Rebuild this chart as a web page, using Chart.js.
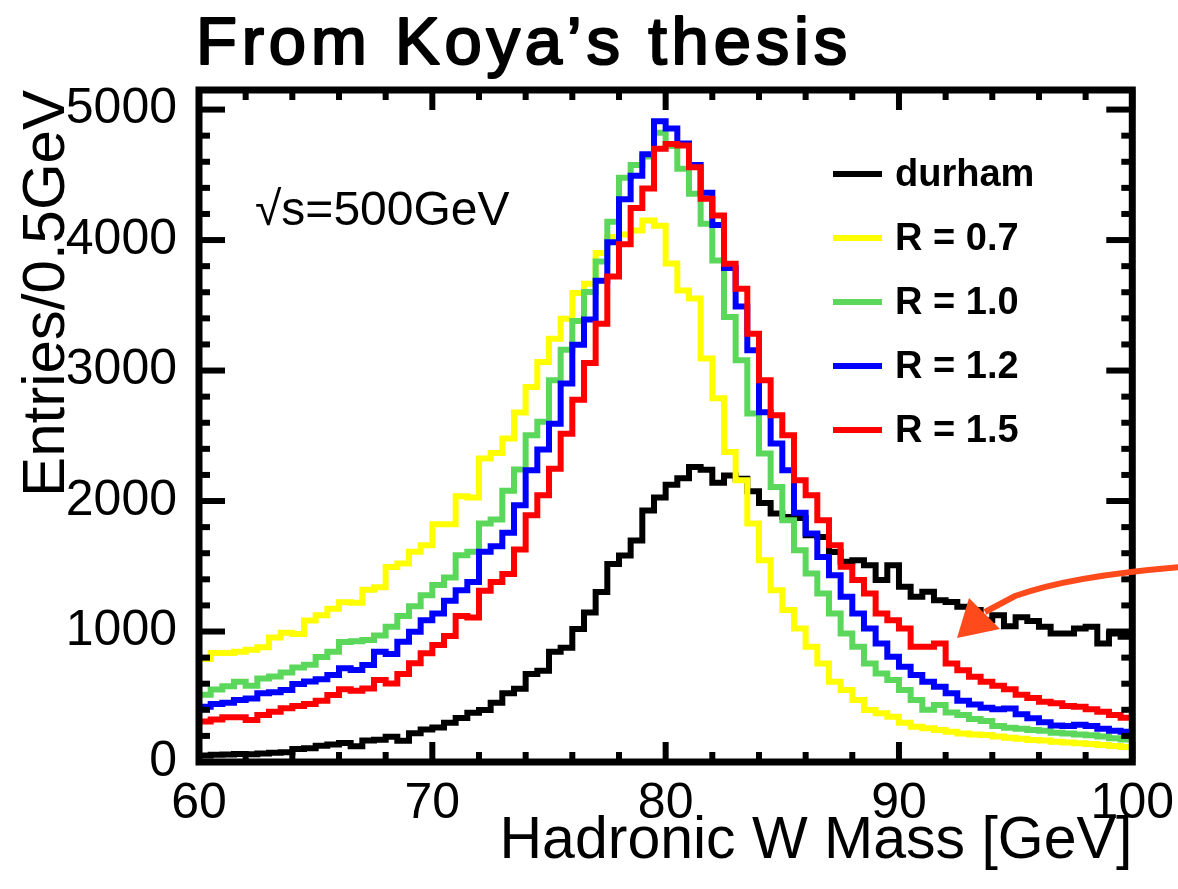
<!DOCTYPE html>
<html lang="en">
<head>
    <meta charset="UTF-8">
    <title>Hadronic W Mass</title>
    <script src="https://cdn.jsdelivr.net/npm/chart.js@4.4.1/dist/chart.umd.min.js"></script>
    <style>
        body { margin: 0; background: #ffffff; }
    </style>
</head>
<body>

    <canvas id="myChart" width="1178" height="889"></canvas>

    <script>
        // 80 bins of 0.5 GeV between 60 and 100 GeV
        const binLow = 60
        const binWidth = 0.5

        const durham = [50, 55, 58, 62, 60, 65, 70, 75, 100, 105, 125, 135, 145, 120, 165, 170, 194, 163, 220, 250,
            265, 301, 337, 378, 398, 454, 526, 561, 674, 699, 845, 875, 1020, 1145, 1303, 1517, 1582, 1697, 1928, 2027,
            2125, 2175, 2260, 2240, 2140, 2195, 2170, 2075, 1985, 1905, 1878, 1870, 1738, 1725, 1610, 1534, 1547, 1508, 1394, 1508,
            1343, 1266, 1304, 1240, 1227, 1189, 1164, 1087, 1125, 1040, 1110, 1080, 1036, 985, 985, 1023, 1036, 908, 985, 960]

        const r07 = [790, 835, 835, 845, 860, 880, 955, 990, 980, 1085, 1125, 1175, 1225, 1220, 1320, 1340, 1495, 1521, 1611, 1662,
            1822, 1822, 2037, 2027, 2325, 2369, 2479, 2678, 2874, 3065, 3244, 3397, 3594, 3666, 3901, 4023, 4043, 4073, 4150, 4110,
            3820, 3614, 3553, 3093, 2787, 2375, 2159, 1827, 1546, 1317, 1164, 1023, 883, 755, 615, 551, 475, 398, 373, 347,
            300, 270, 258, 245, 232, 219, 210, 207, 195, 185, 178, 168, 165, 156, 150, 143, 138, 130, 122, 115]

        const r10 = [515, 555, 580, 615, 585, 640, 655, 685, 725, 745, 805, 845, 920, 925, 935, 970, 1036, 1118, 1194, 1278,
            1356, 1414, 1585, 1611, 1828, 1858, 2078, 2242, 2504, 2607, 2925, 3160, 3380, 3602, 3835, 4141, 4477, 4576, 4641, 4822,
            4720, 4546, 4354, 4125, 3844, 3410, 3078, 2670, 2364, 2108, 1853, 1623, 1445, 1291, 1138, 985, 883, 755, 679, 628,
            551, 475, 400, 436, 380, 360, 330, 315, 275, 262, 255, 245, 240, 225, 218, 210, 205, 195, 182, 172]

        const r12 = [424, 444, 454, 475, 487, 526, 534, 552, 598, 616, 634, 667, 718, 706, 743, 845, 827, 921, 998, 1087,
            1138, 1235, 1317, 1380, 1611, 1654, 1756, 1968, 2236, 2394, 2593, 2900, 3198, 3391, 3688, 3983, 4312, 4493, 4658, 4910,
            4855, 4740, 4576, 4362, 4115, 3786, 3490, 3155, 2680, 2440, 2236, 1910, 1751, 1572, 1432, 1266, 1138, 1023, 908, 806,
            730, 666, 615, 577, 526, 470, 440, 415, 405, 410, 365, 335, 305, 280, 275, 285, 275, 255, 240, 232]

        const r15 = [310, 325, 342, 342, 321, 360, 385, 411, 429, 444, 470, 513, 557, 546, 564, 628, 602, 674, 756, 833,
            896, 965, 1118, 1108, 1312, 1380, 1440, 1628, 1891, 2044, 2248, 2516, 2777, 3057, 3358, 3720, 3967, 4246, 4395, 4699,
            4737, 4724, 4558, 4316, 4188, 3818, 3627, 3282, 2925, 2657, 2504, 2159, 2044, 1853, 1661, 1496, 1394, 1291, 1138, 1087,
            1023, 883, 883, 908, 755, 704, 653, 615, 585, 558, 515, 490, 462, 450, 430, 424, 405, 385, 360, 340]

        const seriesNames = ['durham', 'R = 0.7', 'R = 1.0', 'R = 1.2', 'R = 1.5']
        const seriesValues = [durham, r07, r10, r12, r15]
        const seriesColors = ['#000000', '#ffff00', '#5bd75b', '#0000ff', '#ff0000']

        const xTicks = [60, 70, 80, 90, 100]
        const yTicks = [0, 1000, 2000, 3000, 4000, 5000]

        // histogram outline: start on the axis, then a flat top for every bin
        function histPoints(vals) {
            let pts = [{ x: binLow, y: 0 }]
            vals.forEach((v, i) => {
                pts.push({ x: binLow + i * binWidth, y: v })
                pts.push({ x: binLow + (i + 1) * binWidth, y: v })
            })
            return pts
        }

        const datasets = seriesValues.map((vals, i) => ({
            label: seriesNames[i],
            data: histPoints(vals),
            borderColor: seriesColors[i],
            borderWidth: 6,
            borderJoinStyle: 'miter',
            borderCapStyle: 'butt',
            pointRadius: 0,
            tension: 0,
            fill: false,
            order: seriesValues.length - i
        }))

        const FONT = "'Liberation Sans', Arial, sans-serif"

        // ROOT style frame, inner ticks, legend and labels
        const decorations = {
            id: 'decorations',
            afterDatasetsDraw(chart) {
                const ctx = chart.ctx
                const a = chart.chartArea
                const xs = chart.scales.x
                const ys = chart.scales.y

                ctx.save()
                ctx.strokeStyle = '#000'
                ctx.lineCap = 'butt'

                const seg = (x1, y1, x2, y2) => {
                    ctx.beginPath()
                    ctx.moveTo(x1, y1)
                    ctx.lineTo(x2, y2)
                    ctx.stroke()
                }

                ctx.lineWidth = 6
                for (let v = 60; v <= 100; v += 2) {
                    const px = xs.getPixelForValue(v)
                    const len = v % 10 === 0 ? 20 : 10
                    seg(px, a.bottom, px, a.bottom - len)
                    seg(px, a.top, px, a.top + len)
                }
                for (let v = 0; v <= 5000; v += 200) {
                    const py = ys.getPixelForValue(v)
                    const len = v % 1000 === 0 ? 26 : 11
                    seg(a.left, py, a.left + len, py)
                    seg(a.right, py, a.right - len, py)
                }

                ctx.lineWidth = 7
                ctx.strokeRect(a.left, a.top, a.right - a.left, a.bottom - a.top)

                // legend
                ctx.font = 'bold 38px ' + FONT
                ctx.textBaseline = 'middle'
                ctx.fillStyle = '#000'
                seriesNames.forEach((name, i) => {
                    const ly = 174 + i * 64
                    ctx.strokeStyle = seriesColors[i]
                    ctx.lineWidth = 6
                    seg(833, ly, 882, ly)
                    ctx.fillText(name, 895, ly + 2)
                })

                // energy label
                ctx.font = '48px ' + FONT
                ctx.fillText('\u221As=500GeV', 255, 212)

                // annotation arrow
                ctx.strokeStyle = '#ff4a1c'
                ctx.fillStyle = '#ff4a1c'
                ctx.lineWidth = 6
                ctx.beginPath()
                ctx.moveTo(1180, 567)
                ctx.quadraticCurveTo(1070, 576, 1015, 596)
                ctx.lineTo(985, 612)
                ctx.stroke()
                ctx.beginPath()
                ctx.moveTo(957, 638)
                ctx.lineTo(969, 598)
                ctx.lineTo(1000, 629)
                ctx.closePath()
                ctx.fill()

                // title: medium weight, opened up slightly to the original width
                const title = 'From Koya\u2019s thesis'
                ctx.fillStyle = '#000'
                ctx.strokeStyle = '#000'
                ctx.lineWidth = 2.2
                ctx.lineJoin = 'round'
                ctx.textBaseline = 'alphabetic'
                ctx.font = '67px ' + FONT
                const w = ctx.measureText(title).width
                const sp = (650 - w) / (title.length - 1)
                let tx = 196
                for (const ch of title) {
                    ctx.fillText(ch, tx, 64)
                    ctx.strokeText(ch, tx, 64)
                    tx += ctx.measureText(ch).width + sp
                }
                ctx.restore()
            }
        }

        const ctx = document.getElementById('myChart').getContext('2d')
        const myChart = new Chart(ctx, {
            type: 'line',
            data: { datasets: datasets },
            options: {
                responsive: false,
                animation: false,
                devicePixelRatio: 1,
                layout: { padding: { left: 0, right: 45, top: 90, bottom: 0 } },
                plugins: {
                    legend: { display: false },
                    tooltip: { enabled: false }
                },
                scales: {
                    x: {
                        type: 'linear',
                        min: 60,
                        max: 100,
                        grid: { display: false },
                        border: { display: false },
                        afterBuildTicks: scale => { scale.ticks = xTicks.map(v => ({ value: v })) },
                        afterFit: scale => { scale.height = 127 },
                        ticks: {
                            color: '#000',
                            padding: 4,
                            maxRotation: 0,
                            font: { family: FONT, size: 50 },
                            callback: v => String(v)
                        },
                        title: {
                            display: true,
                            text: 'Hadronic W Mass [GeV]',
                            align: 'end',
                            color: '#000',
                            font: { family: FONT, size: 59 },
                            padding: { top: 0, bottom: 12 }
                        }
                    },
                    y: {
                        type: 'linear',
                        min: 0,
                        max: 5150,
                        grid: { display: false },
                        border: { display: false },
                        afterBuildTicks: scale => { scale.ticks = yTicks.map(v => ({ value: v })) },
                        afterFit: scale => { scale.width = 199 },
                        ticks: {
                            color: '#000',
                            padding: 14,
                            font: { family: FONT, size: 50 },
                            callback: v => String(v)
                        },
                        title: {
                            display: true,
                            text: 'Entries/0.5GeV',
                            align: 'end',
                            color: '#000',
                            font: { family: FONT, size: 60 },
                            padding: { top: 11, bottom: 0 }
                        }
                    }
                }
            },
            plugins: [decorations]
        })
    </script>

</body>
</html>
